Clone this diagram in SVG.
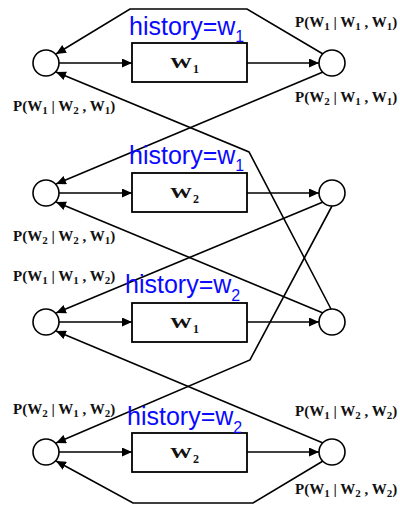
<svg xmlns="http://www.w3.org/2000/svg" width="400" height="505" viewBox="0 0 400 505">
<style>
.c{fill:#fff;stroke:#000;stroke-width:1.6}
.b{fill:#fff;stroke:#000;stroke-width:1.8}
.e{fill:none;stroke:#000;stroke-width:1.6;marker-end:url(#ah)}
.w{font-family:"Liberation Serif","Times New Roman",serif;font-weight:bold;font-size:15px;fill:#111}
.ws{font-family:"Liberation Serif","Times New Roman",serif;font-weight:bold;font-size:12px;fill:#111}
.p{font-family:"Liberation Serif","Times New Roman",serif;font-weight:bold;font-size:15px;fill:#111}
.ps{font-size:11px}
.h{font-family:"Liberation Sans",Arial,sans-serif;font-size:25px;fill:#0a0aff}
.hs{font-size:16px}
</style>
<defs>
<marker id="ah" markerUnits="userSpaceOnUse" markerWidth="11" markerHeight="9" refX="10" refY="4.5" orient="auto">
<path d="M0,0 L10,4.5 L0,9 z" fill="#000"/>
</marker>
</defs>
<rect width="400" height="505" fill="#fff"/>
<g id="connectors">
<path class="e" d="M59,63 L132,63"/>
<path class="e" d="M247,63 L319,63"/>
<path class="e" d="M59,193 L132,193"/>
<path class="e" d="M247,193 L319,193"/>
<path class="e" d="M59,322 L132,322"/>
<path class="e" d="M247,322 L319,322"/>
<path class="e" d="M59,452 L132,452"/>
<path class="e" d="M247,452 L319,452"/>
<path class="e" d="M323,54 L247,9 L130,9 L56,54"/>
<path class="e" d="M323,72 L56,184"/>
<path class="e" d="M331,309 L249,152 L56,72"/>
<path class="e" d="M332,206 L250,360 L56,443"/>
<path class="e" d="M323,443 L56,331"/>
<path class="e" d="M323,202 L56,313"/>
<path class="e" d="M323,313 L56,202"/>
<path class="e" d="M323,461 L253,503 L133,503 L56,461"/>
</g>
<g id="L1"><circle class="c" cx="46" cy="63" r="13"/></g>
<g id="L2"><circle class="c" cx="46" cy="193" r="13"/></g>
<g id="L3"><circle class="c" cx="46" cy="322" r="13"/></g>
<g id="L4"><circle class="c" cx="46" cy="452" r="13"/></g>
<g id="R1"><circle class="c" cx="332" cy="63" r="13"/></g>
<g id="R2"><circle class="c" cx="332" cy="193" r="13"/></g>
<g id="R3"><circle class="c" cx="332" cy="322" r="13"/></g>
<g id="R4"><circle class="c" cx="332" cy="452" r="13"/></g>
<g id="B1">
<rect class="b" x="132" y="43" width="115" height="39"/>
<text class="w" x="170" y="68" textLength="22" lengthAdjust="spacingAndGlyphs">W</text><text class="ws" x="193" y="73">1</text>
<text class="h" x="129" y="35">history=w<tspan class="hs" dy="7">1</tspan></text>
</g>
<g id="B2">
<rect class="b" x="132" y="173" width="115" height="39"/>
<text class="w" x="170" y="198" textLength="22" lengthAdjust="spacingAndGlyphs">W</text><text class="ws" x="193" y="203">2</text>
<text class="h" x="129" y="164">history=w<tspan class="hs" dy="7">1</tspan></text>
</g>
<g id="B3">
<rect class="b" x="132" y="303" width="115" height="39"/>
<text class="w" x="170" y="328" textLength="22" lengthAdjust="spacingAndGlyphs">W</text><text class="ws" x="193" y="333">1</text>
<text class="h" x="125" y="293">history=w<tspan class="hs" dy="8">2</tspan></text>
</g>
<g id="B4">
<rect class="b" x="132" y="433" width="115" height="39"/>
<text class="w" x="170" y="458" textLength="22" lengthAdjust="spacingAndGlyphs">W</text><text class="ws" x="193" y="463">2</text>
<text class="h" x="127" y="425">history=w<tspan class="hs" dy="8">2</tspan></text>
</g>
<g id="labels">
<text class="p" x="295" y="27">P(W<tspan class="ps" dy="3">1</tspan><tspan dy="-3"> | W</tspan><tspan class="ps" dy="3">1</tspan><tspan dy="-3"> , W</tspan><tspan class="ps" dy="3">1</tspan><tspan dy="-3">)</tspan></text>
<text class="p" x="295" y="102">P(W<tspan class="ps" dy="3">2</tspan><tspan dy="-3"> | W</tspan><tspan class="ps" dy="3">1</tspan><tspan dy="-3"> , W</tspan><tspan class="ps" dy="3">1</tspan><tspan dy="-3">)</tspan></text>
<text class="p" x="13" y="111">P(W<tspan class="ps" dy="3">1</tspan><tspan dy="-3"> | W</tspan><tspan class="ps" dy="3">2</tspan><tspan dy="-3"> , W</tspan><tspan class="ps" dy="3">1</tspan><tspan dy="-3">)</tspan></text>
<text class="p" x="13" y="241">P(W<tspan class="ps" dy="3">2</tspan><tspan dy="-3"> | W</tspan><tspan class="ps" dy="3">2</tspan><tspan dy="-3"> , W</tspan><tspan class="ps" dy="3">1</tspan><tspan dy="-3">)</tspan></text>
<text class="p" x="13" y="281">P(W<tspan class="ps" dy="3">1</tspan><tspan dy="-3"> | W</tspan><tspan class="ps" dy="3">1</tspan><tspan dy="-3"> , W</tspan><tspan class="ps" dy="3">2</tspan><tspan dy="-3">)</tspan></text>
<text class="p" x="13" y="414">P(W<tspan class="ps" dy="3">2</tspan><tspan dy="-3"> | W</tspan><tspan class="ps" dy="3">1</tspan><tspan dy="-3"> , W</tspan><tspan class="ps" dy="3">2</tspan><tspan dy="-3">)</tspan></text>
<text class="p" x="295" y="416">P(W<tspan class="ps" dy="3">1</tspan><tspan dy="-3"> | W</tspan><tspan class="ps" dy="3">2</tspan><tspan dy="-3"> , W</tspan><tspan class="ps" dy="3">2</tspan><tspan dy="-3">)</tspan></text>
<text class="p" x="295" y="494">P(W<tspan class="ps" dy="3">1</tspan><tspan dy="-3"> | W</tspan><tspan class="ps" dy="3">2</tspan><tspan dy="-3"> , W</tspan><tspan class="ps" dy="3">2</tspan><tspan dy="-3">)</tspan></text>
</g>
</svg>
